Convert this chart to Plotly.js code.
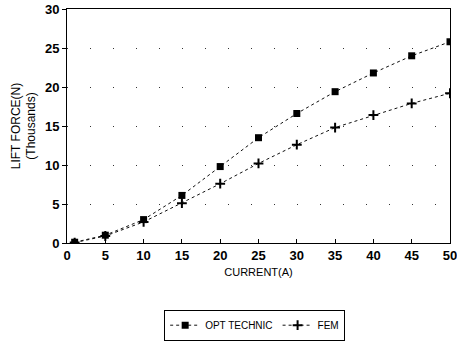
<!DOCTYPE html>
<html><head><meta charset="utf-8">
<script src="https://cdn.plot.ly/plotly-3.0.1.min.js"></script>
<style>html,body{margin:0;padding:0;background:#fff}</style>
</head><body>
<div id="chart" style="width:457px;height:343px"></div>
<script>
var current = [1, 5, 10, 15, 20, 25, 30, 35, 40, 45, 50];
var optTechnic = [0.1, 1.0, 3.0, 6.1, 9.8, 13.5, 16.6, 19.4, 21.8, 24.0, 25.8];
var fem = [0.05, 0.9, 2.7, 5.1, 7.6, 10.2, 12.6, 14.8, 16.4, 17.9, 19.2];
var xTicks = [0, 5, 10, 15, 20, 25, 30, 35, 40, 45, 50];
var yTicks = [0, 5, 10, 15, 20, 25, 30];

var font = {family: "Liberation Sans, Arial, sans-serif", color: "#000"};
var traces = [
  {x: current, y: optTechnic, name: "OPT TECHNIC", mode: "lines+markers", type: "scatter",
   line: {color: "#111", width: 1, dash: "dot"},
   marker: {symbol: "square", size: 7, color: "#000"}},
  {x: current, y: fem, name: "FEM", mode: "lines+markers", type: "scatter",
   line: {color: "#111", width: 1, dash: "dot"},
   marker: {symbol: "cross-thin", size: 7, color: "#000", line: {color: "#000", width: 2}}}
];
var layout = {
  width: 457, height: 343,
  margin: {l: 67, r: 7, t: 9, b: 100, autoexpand: false},
  paper_bgcolor: "#fff", plot_bgcolor: "#fff",
  showlegend: true,
  legend: {orientation: "h", x: 0.49, xanchor: "center", y: -0.285, yanchor: "top",
    bordercolor: "#000", borderwidth: 1, font: Object.assign({size: 10}, font),
    itemwidth: 30, tracegroupgap: 0},
  xaxis: {range: [0, 50], tickvals: xTicks, ticktext: xTicks.map(function(v){return "<b>" + v + "</b>";}),
    ticks: "inside", ticklen: 4, tickcolor: "#000", automargin: false, ticklabeloverflow: "allow",
    showline: true, linecolor: "#000", linewidth: 1, mirror: true, showgrid: false, zeroline: false,
    tickfont: Object.assign({size: 13}, font),
    title: {text: "CURRENT(A)", font: Object.assign({size: 11}, font), standoff: 6}},
  yaxis: {range: [0, 30], tickvals: yTicks, ticktext: yTicks.map(function(v){return "<b>" + v + "</b>";}),
    ticks: "outside", ticklen: 4, tickcolor: "#000", automargin: false, ticklabeloverflow: "allow",
    showline: true, linecolor: "#000", linewidth: 1, mirror: true,
    showgrid: true, gridcolor: "#333", gridwidth: 1, griddash: "1px,22px", zeroline: false,
    tickfont: Object.assign({size: 13}, font),
    title: {text: "LIFT FORCE(N)<br>(Thousands)", font: Object.assign({size: 12}, font), standoff: 6}}
};
Plotly.newPlot("chart", traces, layout, {displayModeBar: false, staticPlot: true});
</script>
</body></html>
